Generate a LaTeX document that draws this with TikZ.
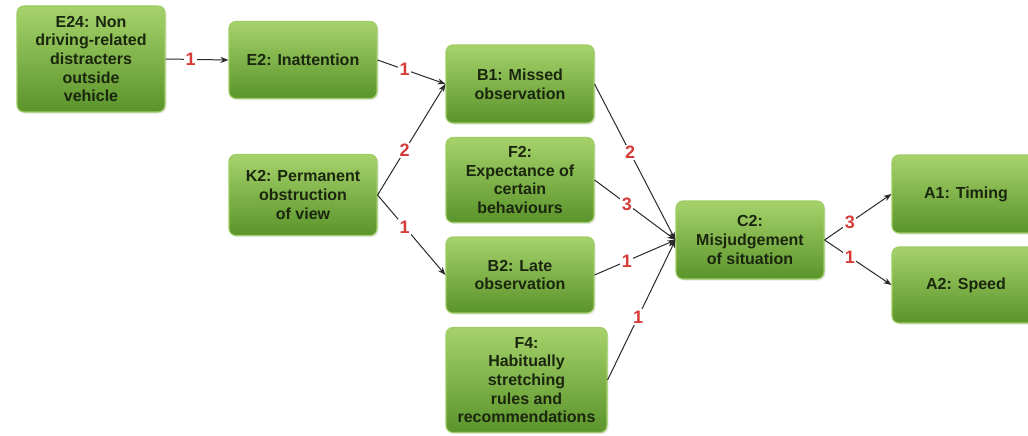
\documentclass[tikz,border=0pt]{standalone}
\usepackage{fontspec}
\setmainfont{Liberation Sans}
\usetikzlibrary{arrows.meta,shadows}
\definecolor{pfTop}{HTML}{A6D26B}
\definecolor{pfBottom}{HTML}{5A942A}
\definecolor{pfRim}{HTML}{9ECD63}
\definecolor{pfInk}{HTML}{1A260E}
\definecolor{pfLine}{HTML}{2A2A2A}
\definecolor{pfRed}{HTML}{D63B38}
\tikzset{
 pf box/.style={rounded corners=7pt,draw=pfRim,line width=1.1pt,
                top color=pfTop,bottom color=pfBottom,
                minimum width=148pt,inner sep=2pt,align=center,text=pfInk,
                font=\fontsize{16}{18.6}\selectfont\bfseries,
                drop shadow={opacity=0.18,shadow xshift=1.5pt,shadow yshift=-1.5pt}},
 pf edge/.style={-{Stealth[length=8pt,width=6pt]},draw=pfLine,line width=1pt},
 pf weight/.style={fill=white,inner sep=1.5pt,text=pfRed,pos=.4,
                   font=\fontsize{18}{18}\selectfont\bfseries}
}
\begin{document}
\begin{tikzpicture}[x=1pt,y=-1pt]
 \useasboundingbox[fill=white] (0,0) rectangle (1028,436);

 \node[pf box,minimum height=106pt] (e24) at (91,59)
   {E24: Non\\driving-related\\distracters\\outside\\vehicle};
 \node[pf box,minimum height=77pt] (e2) at (303,60) {E2: Inattention};
 \node[pf box,minimum height=81pt] (k2) at (303,195)
   {K2: Permanent\\obstruction\\of view};
 \node[pf box,minimum height=78pt] (b1) at (520,84) {B1: Missed\\observation};
 \node[pf box,minimum height=85pt] (f2) at (520,180)
   {F2:\\Expectance of\\certain\\behaviours};
 \node[pf box,minimum height=76pt] (b2) at (520,275) {B2: Late\\observation};
 \node[pf box,minimum height=105pt,minimum width=161pt] (f4) at (526.5,380)
   {F4:\\Habitually\\stretching\\rules and\\recommendations};
 \node[pf box,minimum height=78pt] (c2) at (750,240)
   {C2:\\Misjudgement\\of situation};
 \node[pf box,minimum height=78pt] (a1) at (966,194) {A1: Timing};
 \node[pf box,minimum height=76pt] (a2) at (966,285) {A2: Speed};

 \draw[pf edge] (e24.east) -- node[pf weight] {1} (e2.west);
 \draw[pf edge] (e2.east) -- node[pf weight] {1} (b1.west);
 \draw[pf edge] (k2.east) -- node[pf weight] {2} (b1.west);
 \draw[pf edge] (k2.east) -- node[pf weight] {1} (b2.west);
 \draw[pf edge] (b1.east) -- node[pf weight,pos=.44] {2} (c2.west);
 \draw[pf edge] (f2.east) -- node[pf weight] {3} (c2.west);
 \draw[pf edge] (b2.east) -- node[pf weight] {1} (c2.west);
 \draw[pf edge] (f4.east) -- node[pf weight,pos=.45] {1} (c2.west);
 \draw[pf edge] (c2.east) -- node[pf weight,pos=.38] {3} (a1.west);
 \draw[pf edge] (c2.east) -- node[pf weight,pos=.38] {1} (a2.west);
\end{tikzpicture}
\end{document}
